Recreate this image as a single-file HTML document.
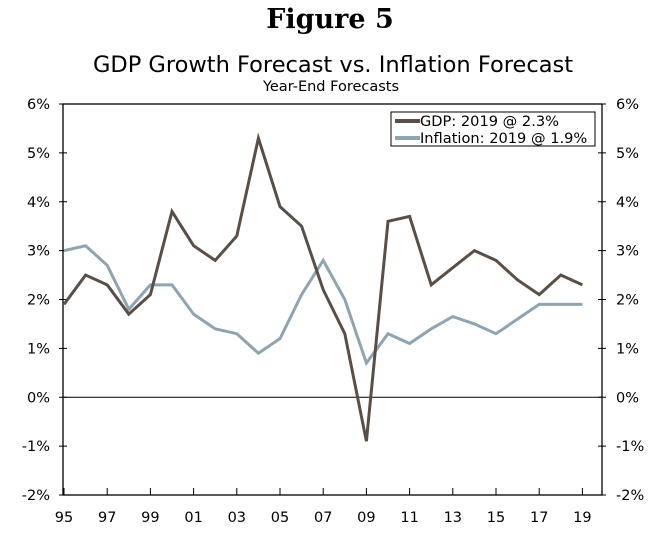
<!DOCTYPE html>
<html><head><meta charset="utf-8"><style>
body{margin:0;background:#fff;}
svg text{font-family:"DejaVu Sans","Liberation Sans",sans-serif;fill:#000;}
</style></head><body>
<svg width="656" height="535" viewBox="0 0 656 535">
<text x="330" y="28" text-anchor="middle" style="font-family:'DejaVu Serif','Liberation Serif',serif;font-weight:bold;font-size:27px">Figure 5</text>
<text x="333" y="72" text-anchor="middle" font-size="22.5">GDP Growth Forecast vs. Inflation Forecast</text>
<text x="331" y="91" text-anchor="middle" font-size="14.5">Year-End Forecasts</text>
<g id="axes"></g>
<g id="series"></g>
<g>
<rect x="391" y="112" width="204" height="34" fill="#fff" stroke="#000" stroke-width="1"/>
<line x1="395" y1="121" x2="420" y2="121" stroke="#5a4f47" stroke-width="4"/>
<text x="420" y="126" font-size="14.6">GDP: 2019 @ 2.3%</text>
<line x1="395" y1="138" x2="420" y2="138" stroke="#8fa4b1" stroke-width="4"/>
<text x="420" y="143" font-size="14.6">Inflation: 2019 @ 1.9%</text>
</g>
</svg>
<script>
const years=[1995,1996,1997,1998,1999,2000,2001,2002,2003,2004,2005,2006,2007,2008,2009,2010,2011,2012,2013,2014,2015,2016,2017,2018,2019];
const gdp=[1.9,2.5,2.3,1.7,2.1,3.8,3.1,2.8,3.3,5.3,3.9,3.5,2.2,1.3,-0.9,3.6,3.7,2.3,2.65,3.0,2.8,2.4,2.1,2.5,2.3];
const inflation=[3.0,3.1,2.7,1.8,2.3,2.3,1.7,1.4,1.3,0.9,1.2,2.1,2.8,2.0,0.7,1.3,1.1,1.4,1.65,1.5,1.3,1.6,1.9,1.9,1.9];
const yTicks=[-2,-1,0,1,2,3,4,5,6];
const xTickLabels=['95','97','99','01','03','05','07','09','11','13','15','17','19'];
const L=63,R=602,T=104,B=495;
const x=yr=>64+(yr-1995)*21.6;
const y=v=>B-(v+2)/8*(B-T);
const NS='http://www.w3.org/2000/svg';
function mk(tag,attrs,parent){const e=document.createElementNS(NS,tag);for(const k in attrs)e.setAttribute(k,attrs[k]);parent.appendChild(e);return e;}
const ax=document.getElementById('axes');
let e;
e=mk('rect',{x:L,y:T,width:R-L,height:B-T,fill:'none',stroke:'#000','stroke-width':1.3},ax);


e=mk('line',{x1:L,x2:R,y1:y(0),y2:y(0),stroke:'#000','stroke-width':1},ax);


yTicks.forEach(v=>{
 mk('line',{x1:L-4,x2:L+4,y1:y(v),y2:y(v),stroke:'#000'},ax);
 mk('line',{x1:R-4,x2:R+4,y1:y(v),y2:y(v),stroke:'#000'},ax);
 e=mk('text',{x:L-13,y:y(v)+5,'text-anchor':'end','font-size':14.5},ax);e.textContent=v+'%';
 
 
 e=mk('text',{x:R+14,y:y(v)+5,'text-anchor':'start','font-size':14.5},ax);e.textContent=v+'%';
 
 
});
xTickLabels.forEach((lab,i)=>{
 const yr=1995+2*i;
 mk('line',{x1:x(yr),x2:x(yr),y1:B,y2:B-7,stroke:'#000'},ax);
 e=mk('text',{x:x(yr),y:522,'text-anchor':'middle','font-size':14.5},ax);e.textContent=lab;
 
 
});
const sg=document.getElementById('series');
function line(vals,color,name){
 const p=mk('polyline',{points:vals.map((v,i)=>x(years[i])+','+y(v)).join(' '),fill:'none',stroke:color,'stroke-width':3,'stroke-linejoin':'miter'},sg);
 
 
}
line(inflation,'#8fa4b1','inflation-line');
line(gdp,'#5a4f47','gdp-line');
</script>
</body></html>
